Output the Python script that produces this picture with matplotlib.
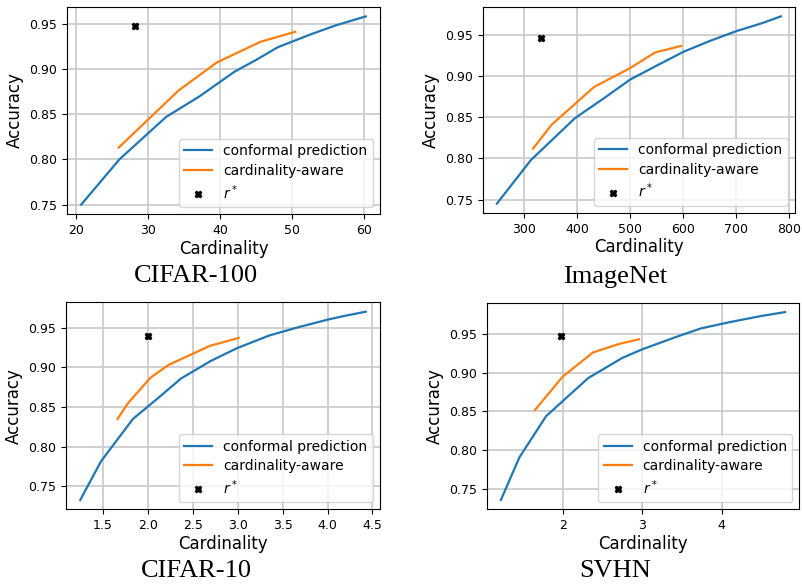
import matplotlib
matplotlib.use("Agg")
import matplotlib.pyplot as plt

# ---------------- data ----------------
titles = ["CIFAR-100", "ImageNet", "CIFAR-10", "SVHN"]

c100_cp_x = [20.7, 26.0, 32.5, 37.0, 42.0, 45.0, 48.0, 52.5, 56.0, 60.2]
c100_cp_y = [0.750, 0.800, 0.847, 0.869, 0.897, 0.910, 0.924, 0.938, 0.948, 0.958]
c100_ca_x = [25.9, 34.2, 39.5, 45.6, 50.4]
c100_ca_y = [0.813, 0.876, 0.907, 0.930, 0.941]
c100_r = (28.2, 0.947)

inet_cp_x = [249, 313, 396, 450, 500, 550, 601, 650, 700, 750, 784]
inet_cp_y = [0.745, 0.798, 0.849, 0.873, 0.896, 0.913, 0.930, 0.943, 0.955, 0.965, 0.973]
inet_ca_x = [317, 352, 432, 500, 547, 596]
inet_ca_y = [0.812, 0.841, 0.887, 0.910, 0.929, 0.937]
inet_r = (333, 0.947)

c10_cp_x = [1.247, 1.48, 1.834, 2.10, 2.37, 2.70, 2.99, 3.35, 3.66, 4.00, 4.20, 4.425]
c10_cp_y = [0.733, 0.782, 0.835, 0.860, 0.886, 0.908, 0.924, 0.940, 0.950, 0.960, 0.965, 0.970]
c10_ca_x = [1.662, 1.78, 2.03, 2.23, 2.69, 3.01]
c10_ca_y = [0.835, 0.855, 0.887, 0.903, 0.927, 0.937]
c10_r = (2.0, 0.940)

svhn_cp_x = [1.22, 1.454, 1.79, 2.32, 2.75, 3.00, 3.40, 3.74, 4.10, 4.50, 4.80]
svhn_cp_y = [0.736, 0.791, 0.844, 0.893, 0.919, 0.930, 0.945, 0.957, 0.965, 0.973, 0.978]
svhn_ca_x = [1.65, 2.0, 2.38, 2.71, 2.96]
svhn_ca_y = [0.852, 0.895, 0.926, 0.937, 0.943]
svhn_r = (1.98, 0.947)

xticks_list = [[20, 30, 40, 50, 60],
               [300, 400, 500, 600, 700, 800],
               [1.5, 2.0, 2.5, 3.0, 3.5, 4.0, 4.5],
               [2, 3, 4]]
yticks = [0.75, 0.80, 0.85, 0.90, 0.95]

panels = [
    (c100_cp_x, c100_cp_y, c100_ca_x, c100_ca_y, c100_r),
    (inet_cp_x, inet_cp_y, inet_ca_x, inet_ca_y, inet_r),
    (c10_cp_x, c10_cp_y, c10_ca_x, c10_ca_y, c10_r),
    (svhn_cp_x, svhn_cp_y, svhn_ca_x, svhn_ca_y, svhn_r),
]

# ---------------- layout ----------------
W, H = 803, 585
fig = plt.figure(figsize=(W / 100, H / 100), dpi=100)

# axes rectangles in pixels: left, top, right, bottom
rects = [(67, 7, 380, 214), (482.7, 7, 795, 213),
         (66, 302.3, 380, 509.3), (486.7, 302.7, 799.3, 509.3)]
caption_pos = [(196, 276.5), (615, 276.5), (196, 571), (615, 571)]

for i, (cpx, cpy, cax, cay, r) in enumerate(panels):
    l, t, rr, b = rects[i]
    ax = fig.add_axes([l / W, 1 - b / H, (rr - l) / W, (b - t) / H])
    ax.plot(cpx, cpy, color="#1f77b4", lw=1.6, label="conformal prediction")
    ax.plot(cax, cay, color="#ff7f0e", lw=1.6, label="cardinality-aware")
    ax.plot([r[0]], [r[1]], linestyle="none", marker="X", color="black",
            markersize=5, label=r"$r^*$")
    ax.set_xticks(xticks_list[i])
    ax.set_yticks(yticks)
    ax.set_yticklabels([f"{v:.2f}" for v in yticks])
    if i == 2:
        ax.set_xticklabels([f"{v:.1f}" for v in xticks_list[i]])
    ax.tick_params(labelsize=9)
    ax.grid(True, color="#c8c8c8", lw=1.2)
    ax.set_axisbelow(True)
    ax.set_xlabel("Cardinality", fontsize=12, labelpad=2)
    ax.set_ylabel("Accuracy", fontsize=12, labelpad=4)
    ax.legend(loc="lower right", fontsize=10, labelspacing=0.38)
    cx, cy = caption_pos[i]
    fig.text(cx / W, 1 - cy / H, titles[i], ha="center", va="center",
             fontsize=19, family="Liberation Serif")

fig.savefig("out.png", dpi=100)
